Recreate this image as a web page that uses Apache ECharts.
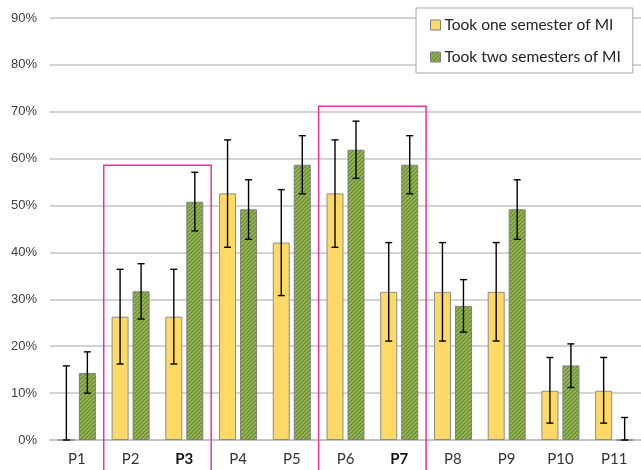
<!DOCTYPE html>
<html><head><meta charset="utf-8">
<script src="https://cdn.jsdelivr.net/npm/echarts@6/dist/echarts.min.js"></script>
<style>html,body{margin:0;padding:0;background:#fff}#c{width:641px;height:470px}</style>
</head><body><div id="c"></div>
<script>
var categories = ['P1','P2','P3','P4','P5','P6','P7','P8','P9','P10','P11'];
var boldCategories = ['P3','P7'];
var oneSemester = [0, 26.3, 26.3, 52.6, 42.1, 52.6, 31.6, 31.6, 31.6, 10.5, 10.5];
var oneSemesterLow = [0, 16.2, 16.2, 41.1, 30.8, 41.1, 21.1, 21.1, 21.1, 3.6, 3.6];
var oneSemesterHigh = [15.8, 36.4, 36.4, 64.0, 53.4, 64.0, 42.1, 42.1, 42.1, 17.6, 17.6];
var twoSemesters = [14.3, 31.7, 50.8, 49.2, 58.7, 61.9, 58.7, 28.6, 49.2, 15.9, 0];
var twoSemestersLow = [10.0, 25.8, 44.6, 42.8, 52.5, 55.8, 52.5, 23.0, 42.8, 11.2, 0];
var twoSemestersHigh = [18.8, 37.6, 57.1, 55.5, 64.9, 68.0, 64.9, 34.2, 55.5, 20.5, 4.8];
var yTicks = [0,10,20,30,40,50,60,70,80,90];
// highlight boxes: [first category index, last category index, top value %]
var highlightBoxes = [[1, 2, 58.6], [5, 6, 71.2]];

var pc = document.createElement('canvas');
pc.width = 4; pc.height = 4;
var g = pc.getContext('2d');
g.fillStyle = '#a2c462'; g.fillRect(0,0,4,4);
g.strokeStyle = '#6f9034'; g.lineWidth = 1.6;
g.beginPath();
g.moveTo(0,4); g.lineTo(4,0);
g.moveTo(-1,1); g.lineTo(1,-1);
g.moveTo(3,5); g.lineTo(5,3);
g.stroke();

var BW = 17, GAP = 4;
function errSeries(low, high, offset) {
  return {
    type: 'custom',
    silent: true,
    z: 10,
    data: low.map(function(v, i){ return [i, v, high[i]]; }),
    renderItem: function(params, api) {
      var lo = api.coord([api.value(0), api.value(1)]);
      var hi = api.coord([api.value(0), api.value(2)]);
      var x = lo[0] + offset;
      var style = {stroke: '#000', lineWidth: 1.4};
      return {type: 'group', children: [
        {type: 'line', shape: {x1: x, y1: lo[1], x2: x, y2: hi[1]}, style: style},
        {type: 'line', shape: {x1: x-3.5, y1: lo[1], x2: x+3.5, y2: lo[1]}, style: style},
        {type: 'line', shape: {x1: x-3.5, y1: hi[1], x2: x+3.5, y2: hi[1]}, style: style}
      ]};
    }
  };
}

var chart = echarts.init(document.getElementById('c'));
chart.setOption({
  animation: false,
  grid: {left: 50, right: 0, top: 18, bottom: 30},
  legend: {
    orient: 'vertical', left: 416, top: 8,
    padding: [8, 12, 7, 14], itemGap: 14,
    itemWidth: 10, itemHeight: 10, icon: 'rect',
    backgroundColor: '#fff', borderColor: '#a6a6a6', borderWidth: 1,
    textStyle: {fontFamily: 'Lato', fontSize: 15.5, color: '#222', lineHeight: 18, padding: [0,0,0,-1]},
    data: [
      {name: 'Took one semester of MI', itemStyle: {color: '#ffd966', borderColor: '#7f7f7f', borderWidth: 1}},
      {name: 'Took two semesters of MI', itemStyle: {color: {image: pc, repeat: 'repeat'}, borderColor: '#7f7f7f', borderWidth: 1}}
    ],
    z: 20
  },
  xAxis: {
    type: 'category', data: categories,
    axisTick: {show: false},
    axisLine: {lineStyle: {color: '#bfbfbf', width: 1.5}},
    axisLabel: {
      margin: 12, fontFamily: 'Lato', fontSize: 15, color: '#333',
      formatter: function(v){ return boldCategories.indexOf(v) >= 0 ? '{b|' + v + '}' : v; },
      rich: {b: {fontWeight: 'bold', fontFamily: 'Lato', fontSize: 15, color: '#111'}}
    }
  },
  yAxis: {
    type: 'value', min: 0, max: 90, interval: 10,
    axisLine: {show: false}, axisTick: {show: false},
    axisLabel: {margin: 13, fontFamily: 'Liberation Sans', fontSize: 13, color: '#404040',
      formatter: function(v){ return yTicks.indexOf(v) >= 0 ? v + '%' : ''; }},
    splitLine: {lineStyle: {color: '#c4c4c4', width: 1.5}}
  },
  series: [
    {name: 'Took one semester of MI', type: 'bar', data: oneSemester, barWidth: BW, barGap: (GAP/BW*100) + '%',
      itemStyle: {color: '#ffd966', borderColor: '#8c8c8c', borderWidth: 1}},
    {name: 'Took two semesters of MI', type: 'bar', data: twoSemesters, barWidth: BW,
      itemStyle: {color: {image: pc, repeat: 'repeat'}, borderColor: '#7f7f7f', borderWidth: 1}},
    errSeries(oneSemesterLow, oneSemesterHigh, -(BW+GAP)/2),
    errSeries(twoSemestersLow, twoSemestersHigh, (BW+GAP)/2)
  ]
});

var c0 = chart.convertToPixel({xAxisIndex: 0}, 0);
var c1 = chart.convertToPixel({xAxisIndex: 0}, 1);
var half = (c1 - c0) / 2;
chart.setOption({
  graphic: highlightBoxes.map(function(b){
    var x1 = chart.convertToPixel({xAxisIndex: 0}, b[0]) - half;
    var x2 = chart.convertToPixel({xAxisIndex: 0}, b[1]) + half;
    var yt = chart.convertToPixel({yAxisIndex: 0}, b[2]);
    return {type: 'rect', z: 5, silent: true,
      shape: {x: x1, y: yt, width: x2 - x1, height: 480 - yt},
      style: {fill: 'none', stroke: '#e8359d', lineWidth: 1.5}};
  })
});
</script></body></html>
